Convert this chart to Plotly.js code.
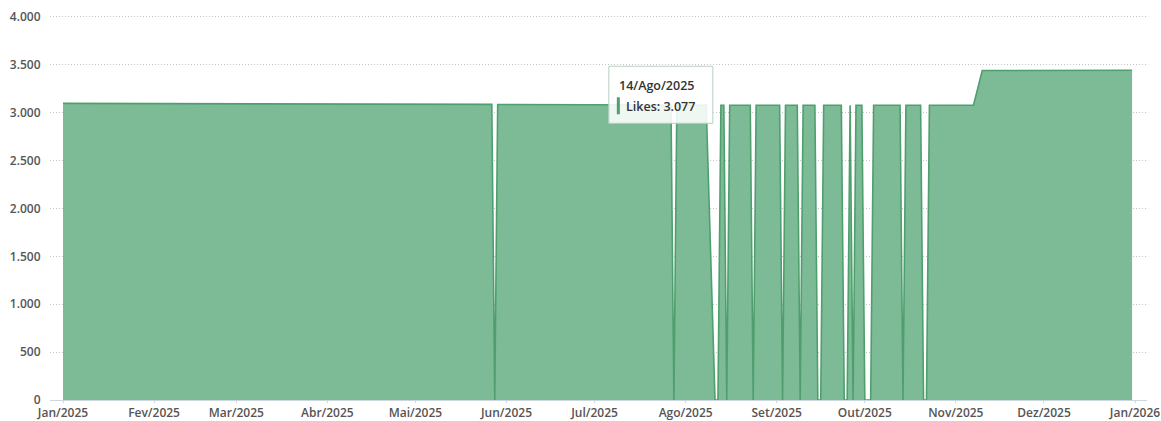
<!DOCTYPE html>
<html>
<head>
<meta charset="utf-8">
<script src="https://cdn.plot.ly/plotly-3.0.1.min.js"></script>
<style>html,body{margin:0;padding:0;background:#fff;}#chart{width:1161px;height:421px;}</style>
</head>
<body>
<div id="chart"></div>
<script>
// "Likes" (points where the level changes)
const dates = ['2025-01-01','2025-03-01','2025-05-27','2025-05-28','2025-05-29','2025-07-27','2025-07-28','2025-07-29',
  '2025-08-08','2025-08-11','2025-08-12','2025-08-13','2025-08-14','2025-08-15','2025-08-16','2025-08-23','2025-08-24',
  '2025-08-25','2025-09-02','2025-09-03','2025-09-04','2025-09-08','2025-09-09','2025-09-10','2025-09-14','2025-09-15',
  '2025-09-16','2025-09-17','2025-09-23','2025-09-24','2025-09-25','2025-09-26','2025-09-27','2025-09-28','2025-09-30',
  '2025-10-01','2025-10-03','2025-10-04','2025-10-13','2025-10-14','2025-10-15','2025-10-20','2025-10-21','2025-10-22',
  '2025-10-23','2025-11-07','2025-11-10','2025-12-31'];
const likes = [3097,3093,3086,0,3085,3080,0,3079,
  3078,0,0,3077,3077,0,3077,3077,0,
  3077,3077,0,3077,3077,0,3077,3077,0,
  0,3077,3077,0,0,3077,0,3077,3077,
  0,0,3077,3077,0,3077,3077,0,0,
  3078,3079,3440,3442];

const tickDates = ['2025-01-01','2025-02-01','2025-03-01','2025-04-01','2025-05-01','2025-06-01','2025-07-01',
  '2025-08-01','2025-09-01','2025-10-01','2025-11-01','2025-12-01','2026-01-01'];
const tickLabels = ['Jan/2025','Fev/2025','Mar/2025','Abr/2025','Mai/2025','Jun/2025','Jul/2025',
  'Ago/2025','Set/2025','Out/2025','Nov/2025','Dez/2025','Jan/2026'];

const tooltipDate = '2025-08-14';
const tooltipValue = 3077;
const tooltipTitle = '14/Ago/2025';
const tooltipLine = 'Likes: 3.077';

const trace = {
  x: dates, y: likes, type: 'scatter', mode: 'lines',
  line: {color: '#4f9f6e', width: 1.6},
  fill: 'tozeroy', fillcolor: 'rgb(125,187,151)',
  hoverinfo: 'skip'
};

const tickFont = {family: 'Open Sans, sans-serif', size: 12, color: '#555', weight: 600};

const layout = {
  width: 1161, height: 421,
  margin: {l: 50, r: 14, t: 14, b: 21},
  paper_bgcolor: '#fff', plot_bgcolor: '#fff',
  separators: ',.',
  showlegend: false,
  xaxis: {
    type: 'date',
    range: ['2024-12-27 13:40', '2026-01-05 02:00'],
    tickvals: tickDates, ticktext: tickLabels,
    showgrid: false, zeroline: false,
    showline: true, linecolor: '#ccd6e0', linewidth: 1,
    ticks: 'outside', ticklen: 2, tickcolor: '#ccd6e0',
    tickfont: tickFont
  },
  yaxis: {
    range: [0, 4030], tickvals: [0,500,1000,1500,2000,2500,3000,3500,4000], tickformat: ',d',
    showgrid: true, gridcolor: '#c4c4c4', griddash: '1px,2px', gridwidth: 1,
    zeroline: false, showline: false,
    ticks: 'outside', ticklen: 6, tickcolor: 'rgba(0,0,0,0)',
    tickfont: tickFont
  },
  shapes: [
    {type: 'rect', layer: 'above', xref: 'x', yref: 'y',
     xsizemode: 'pixel', xanchor: tooltipDate, x0: -115, x1: -11,
     ysizemode: 'pixel', yanchor: tooltipValue, y0: -18, y1: 39,
     fillcolor: 'rgba(255,255,255,0.88)', line: {color: '#b9cfc0', width: 1}},
    {type: 'rect', layer: 'above', xref: 'x', yref: 'y',
     xsizemode: 'pixel', xanchor: tooltipDate, x0: -107, x1: -104,
     ysizemode: 'pixel', yanchor: tooltipValue, y0: -9, y1: 8,
     fillcolor: '#4f9f6e', line: {width: 0}}
  ],
  annotations: [
    {xref: 'x', yref: 'y', x: tooltipDate, y: tooltipValue, text: tooltipTitle, showarrow: false,
     xanchor: 'left', yanchor: 'middle', xshift: -107, yshift: 20,
     font: {family: 'Open Sans, sans-serif', size: 12.5, color: '#333', weight: 600}},
    {xref: 'x', yref: 'y', x: tooltipDate, y: tooltipValue, text: tooltipLine, showarrow: false,
     xanchor: 'left', yanchor: 'middle', xshift: -100, yshift: -1,
     font: {family: 'Open Sans, sans-serif', size: 12.5, color: '#333', weight: 600}}
  ]
};

Plotly.newPlot('chart', [trace], layout, {displayModeBar: false, staticPlot: true});
</script>
</body>
</html>
